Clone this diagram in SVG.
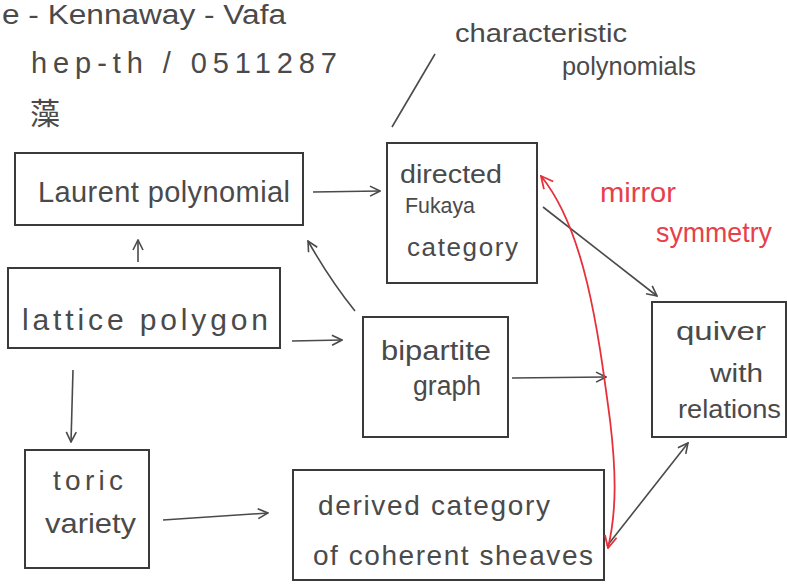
<svg xmlns="http://www.w3.org/2000/svg" width="787" height="585" viewBox="0 0 787 585">
<style>
.box{fill:none;stroke:#3a3a3a;stroke-width:2}
.t{font-family:"Liberation Sans","Noto Sans CJK SC",sans-serif;fill:#4a4a4a;font-weight:normal}
.e{fill:none;stroke:#4a4a4a;stroke-width:1.6}
.r{fill:none;stroke:#e8303a;stroke-width:1.8}
.rt{font-family:"Liberation Sans",sans-serif;fill:#e8404a}
</style>
<defs>
<marker id="a" viewBox="0 0 12 12" refX="11" refY="6" markerWidth="12" markerHeight="12" markerUnits="userSpaceOnUse" orient="auto">
<path d="M1,1 L11,6 L1,11" fill="none" stroke="#4a4a4a" stroke-width="1.6"/>
</marker>
<marker id="ar" viewBox="0 0 14 14" refX="13" refY="7" markerWidth="14" markerHeight="14" markerUnits="userSpaceOnUse" orient="auto-start-reverse">
<path d="M1,1 L13,7 L1,13" fill="none" stroke="#e8303a" stroke-width="1.8"/>
</marker>
</defs>
<rect width="787" height="585" fill="#ffffff"/>
<g id="notes">
<text class="t" x="2" y="24" font-size="27" textLength="284" lengthAdjust="spacingAndGlyphs">e - Kennaway - Vafa</text>
<text class="t" x="31" y="73" font-size="29" textLength="306" lengthAdjust="spacing">hep-th / 0511287</text>
<text class="t" x="30" y="124" font-size="30">藻</text>
<text class="t" x="455" y="42" font-size="26" textLength="172" lengthAdjust="spacingAndGlyphs">characteristic</text>
<text class="t" x="562" y="75" font-size="26" textLength="134" lengthAdjust="spacingAndGlyphs">polynomials</text>
<text class="rt" x="600" y="202" font-size="28" textLength="76" lengthAdjust="spacingAndGlyphs">mirror</text>
<text class="rt" x="656" y="242" font-size="28" textLength="116" lengthAdjust="spacingAndGlyphs">symmetry</text>
</g>
<g id="laurent">
<rect class="box" x="15" y="153" width="288" height="72"/>
<text class="t" x="38" y="202" font-size="29" textLength="252" lengthAdjust="spacing">Laurent polynomial</text>
</g>
<g id="lattice">
<rect class="box" x="8" y="268" width="272" height="80"/>
<text class="t" x="22" y="330" font-size="30" textLength="246" lengthAdjust="spacing">lattice polygon</text>
</g>
<g id="fukaya">
<rect class="box" x="387" y="143" width="150" height="140"/>
<text class="t" x="400" y="183" font-size="26" textLength="102" lengthAdjust="spacingAndGlyphs">directed</text>
<text class="t" x="405" y="213" font-size="22" textLength="70" lengthAdjust="spacingAndGlyphs">Fukaya</text>
<text class="t" x="407" y="256" font-size="26" textLength="111" lengthAdjust="spacing">category</text>
</g>
<g id="bipartite">
<rect class="box" x="363" y="317" width="145" height="120"/>
<text class="t" x="381" y="360" font-size="27" textLength="110" lengthAdjust="spacingAndGlyphs">bipartite</text>
<text class="t" x="413" y="395" font-size="27" textLength="68" lengthAdjust="spacingAndGlyphs">graph</text>
</g>
<g id="quiver">
<rect class="box" x="652" y="302" width="134" height="135"/>
<text class="t" x="676" y="340" font-size="26" textLength="90" lengthAdjust="spacingAndGlyphs">quiver</text>
<text class="t" x="710" y="382" font-size="26" textLength="53" lengthAdjust="spacingAndGlyphs">with</text>
<text class="t" x="678" y="418" font-size="26" textLength="103" lengthAdjust="spacingAndGlyphs">relations</text>
</g>
<g id="toric">
<rect class="box" x="25" y="450" width="124" height="118"/>
<text class="t" x="53" y="490" font-size="28" textLength="70" lengthAdjust="spacing">toric</text>
<text class="t" x="45" y="533" font-size="28" textLength="91" lengthAdjust="spacingAndGlyphs">variety</text>
</g>
<g id="derived">
<rect class="box" x="293" y="470" width="311" height="110"/>
<text class="t" x="318" y="515" font-size="28" textLength="232" lengthAdjust="spacing">derived category</text>
<text class="t" x="313" y="565" font-size="28" textLength="280" lengthAdjust="spacing">of coherent sheaves</text>
</g>
<g id="connectors">
<path class="e" d="M313,192 L380,191" marker-end="url(#a)"/>
<path class="e" d="M138,262 L138,240" marker-end="url(#a)"/>
<path class="e" d="M292,341 L342,340" marker-end="url(#a)"/>
<path class="e" d="M355,311 Q330,280 308,241" marker-end="url(#a)"/>
<path class="e" d="M73,370 L71,442" marker-end="url(#a)"/>
<path class="e" d="M163,520 L268,513" marker-end="url(#a)"/>
<path class="e" d="M512,378 L606,377" marker-end="url(#a)"/>
<path class="e" d="M543,207 L657,296" marker-end="url(#a)"/>
<path class="e" d="M607,546 L688,443" marker-end="url(#a)"/>
<path class="e" d="M435,54 L392,127"/>
<path class="r" d="M541,176 C585,230 598,330 610,420 C616,470 617,510 608,548" marker-start="url(#ar)" marker-end="url(#ar)"/>
</g>
</svg>
